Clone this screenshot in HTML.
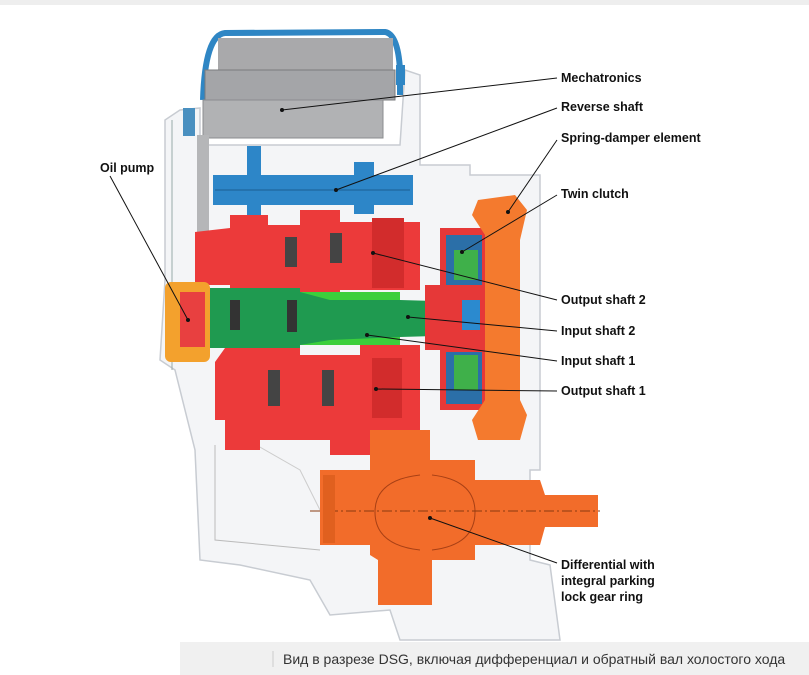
<!DOCTYPE html>
<html><head><meta charset="utf-8"><style>
html,body{margin:0;padding:0;background:#fff;width:809px;height:675px;overflow:hidden}
svg{display:block}
text{font-family:"Liberation Sans",sans-serif;font-weight:bold;font-size:12.5px;fill:#111}
</style></head><body>
<svg width="809" height="675" viewBox="0 0 809 675">
<rect x="0" y="0" width="809" height="5" fill="#eeeeee"/>
<path d="M165 280 L165 120 L180 110 L200 108 L200 145 L400 145 L405 70 L420 75 L420 165 L470 165 L470 175 L540 175 L540 470 L530 470 L530 560 L550 565 L560 640 L400 640 L390 610 L330 615 L310 580 L240 565 L200 560 L195 450 L175 370 L160 360 Z" fill="#f4f5f7" stroke="#c8ccd2" stroke-width="1.5"/>
<path d="M172 120 L172 370" stroke="#9aa" stroke-width="1" fill="none"/>
<path d="M215 445 L215 540 L320 550" stroke="#bbb" fill="none"/>
<path d="M230 430 L300 470 L320 510" stroke="#ccc" fill="none"/>
<path d="M203 100 Q205 35 225 33 L385 32 Q398 34 400 70 L400 95" fill="none" stroke="#2f86c4" stroke-width="6"/>
<rect x="396" y="65" width="9" height="20" fill="#2f86c4"/>
<rect x="183" y="108" width="12" height="28" fill="#4a90c0"/>
<rect x="218" y="38" width="175" height="35" fill="#a9a9ab"/>
<rect x="205" y="70" width="190" height="30" fill="#a4a5a8" stroke="#7a7b7e"/>
<rect x="203" y="100" width="180" height="38" fill="#b1b2b4" stroke="#8b8c8f"/>
<rect x="197" y="135" width="12" height="150" fill="#b5b6b8"/>
<rect x="213" y="175" width="200" height="30" fill="#2d86c8"/>
<rect x="247" y="146" width="14" height="80" fill="#2d86c8"/>
<rect x="354" y="162" width="20" height="52" fill="#2d86c8"/>
<line x1="215" y1="190" x2="410" y2="190" stroke="#1b5e92" stroke-width="1"/>
<path d="M195 232 L230 228 L230 215 L268 215 L268 225 L300 225 L300 210 L340 210 L340 222 L420 222 L420 290 L340 290 L340 305 L300 305 L300 290 L265 290 L265 300 L230 300 L230 285 L195 285 Z" fill="#ec3a3a"/>
<rect x="285" y="237" width="12" height="30" fill="#444"/>
<rect x="330" y="233" width="12" height="30" fill="#444"/>
<rect x="372" y="218" width="32" height="70" fill="#d22c2c"/>
<path d="M205 288 L300 288 L300 292 L400 292 L400 300 L470 302 L470 335 L400 337 L400 345 L300 345 L300 348 L205 348 Z" fill="#1f9a50"/>
<path d="M300 292 L400 292 L400 300 L330 300 Z M300 345 L400 345 L400 337 L330 340 Z" fill="#3ccf3c"/>
<rect x="230" y="300" width="10" height="30" fill="#333"/>
<rect x="287" y="300" width="10" height="32" fill="#333"/>
<rect x="460" y="310" width="40" height="16" fill="#555"/>
<rect x="165" y="282" width="45" height="80" rx="6" fill="#f3a12d"/>
<rect x="180" y="292" width="25" height="55" fill="#e84040"/>
<path d="M215 362 L225 348 L300 348 L300 355 L360 355 L360 345 L420 345 L420 440 L370 440 L370 455 L330 455 L330 440 L260 440 L260 450 L225 450 L225 420 L215 420 Z" fill="#ec3a3a"/>
<rect x="268" y="370" width="12" height="36" fill="#444"/>
<rect x="322" y="370" width="12" height="36" fill="#444"/>
<rect x="372" y="358" width="30" height="60" fill="#d22c2c"/>
<path d="M440 228 L485 228 L485 410 L440 410 L440 350 L425 350 L425 285 L440 285 Z" fill="#e63838"/>
<rect x="446" y="235" width="36" height="50" fill="#2b6fa8"/>
<rect x="446" y="352" width="36" height="52" fill="#2b6fa8"/>
<rect x="454" y="250" width="24" height="30" fill="#3fb04a"/>
<rect x="454" y="355" width="24" height="35" fill="#3fb04a"/>
<rect x="462" y="300" width="18" height="30" fill="#2b8acf"/>
<path d="M478 200 L515 195 L527 210 L520 240 L520 400 L527 415 L520 440 L478 440 L472 420 L485 400 L485 235 L472 215 Z" fill="#f47a2e"/>
<path d="M320 470 L370 470 L370 430 L430 430 L430 460 L475 460 L475 480 L540 480 L545 495 L598 495 L598 527 L545 527 L540 545 L475 545 L475 560 L432 560 L432 605 L378 605 L378 560 L370 555 L370 545 L320 545 Z" fill="#f26c2a"/>
<path d="M432 475 Q475 480 475 512 Q475 545 432 550" fill="none" stroke="#a84015" stroke-width="1"/>
<path d="M420 475 Q375 480 375 512 Q375 545 420 550" fill="none" stroke="#a84015" stroke-width="1"/>
<line x1="310" y1="511" x2="600" y2="511" stroke="#8a3a10" stroke-width="1" stroke-dasharray="10,3,2,3"/>
<rect x="323" y="475" width="12" height="68" fill="#e0601f"/>
<g stroke="#111" stroke-width="1" fill="none">
<line x1="557" y1="78" x2="282" y2="110"/>
<line x1="557" y1="108" x2="336" y2="190"/>
<line x1="557" y1="140" x2="508" y2="212"/>
<line x1="557" y1="195" x2="462" y2="252"/>
<line x1="557" y1="300" x2="373" y2="253"/>
<line x1="557" y1="331" x2="408" y2="317"/>
<line x1="557" y1="361" x2="367" y2="335"/>
<line x1="557" y1="391" x2="376" y2="389"/>
<line x1="557" y1="563" x2="430" y2="518"/>
<line x1="110" y1="176" x2="188" y2="320"/>
</g>
<g fill="#111">
<circle cx="282" cy="110" r="2"/><circle cx="336" cy="190" r="2"/><circle cx="508" cy="212" r="2"/>
<circle cx="462" cy="252" r="2"/><circle cx="373" cy="253" r="2"/><circle cx="408" cy="317" r="2"/>
<circle cx="367" cy="335" r="2"/><circle cx="376" cy="389" r="2"/><circle cx="430" cy="518" r="2"/><circle cx="188" cy="320" r="2"/>
</g>
<text x="561" y="82">Mechatronics</text>
<text x="561" y="111">Reverse shaft</text>
<text x="561" y="142">Spring-damper element</text>
<text x="561" y="198">Twin clutch</text>
<text x="561" y="304">Output shaft 2</text>
<text x="561" y="335">Input shaft 2</text>
<text x="561" y="365">Input shaft 1</text>
<text x="561" y="395">Output shaft 1</text>
<text x="561" y="569">Differential with</text>
<text x="561" y="585">integral parking</text>
<text x="561" y="601">lock gear ring</text>
<text x="100" y="172">Oil pump</text>
<rect x="180" y="642" width="629" height="33" fill="#f0f0f0"/>
<line x1="273" y1="651" x2="273" y2="667" stroke="#ccc"/>
<text x="283" y="664" style="font-weight:normal;font-size:14px;fill:#333">Вид в разрезе DSG, включая дифференциал и обратный вал холостого хода</text>
</svg>
</body></html>
